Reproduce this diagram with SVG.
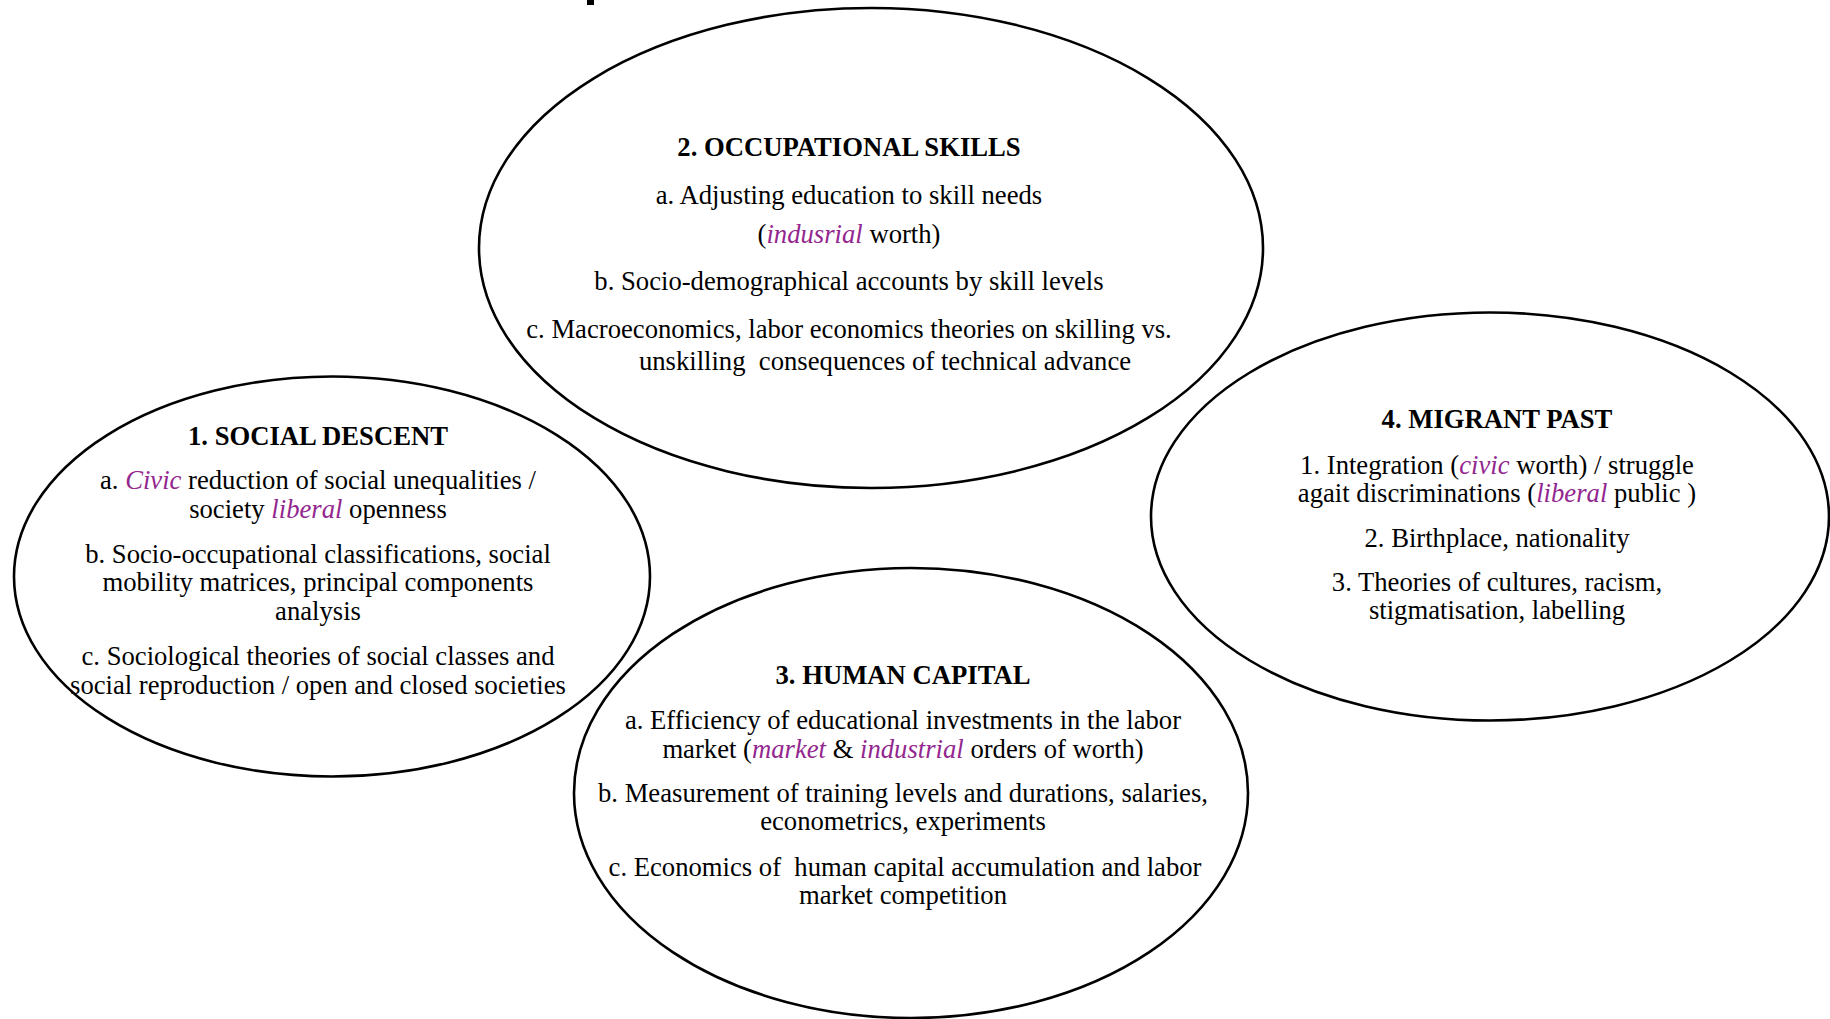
<svg xmlns="http://www.w3.org/2000/svg" width="1830" height="1019" viewBox="0 0 1830 1019">
<style>
.bg{fill:#ffffff}
.oval{fill:none;stroke:#000;stroke-width:2.6}
text{font-family:"Liberation Serif","Times New Roman",serif;font-size:26.67px;fill:#000;text-anchor:middle}
.h{font-weight:bold}
.m{font-style:italic;fill:#93278f}
</style>
<rect class="bg" x="0" y="0" width="1830" height="1019"/>
<rect id="title-fragment" x="587" y="0" width="7" height="5" fill="#000"/>
<g id="connectors"></g>
<g id="node-occupational-skills">
<ellipse class="oval" cx="871" cy="248" rx="392" ry="240"/>
<text class="h" x="849" y="156">2. OCCUPATIONAL SKILLS</text>
<text x="849" y="204">a. Adjusting education to skill needs</text>
<text x="849" y="243">(<tspan class="m">indusrial</tspan> worth)</text>
<text x="849" y="290">b. Socio-demographical accounts by skill levels</text>
<text x="849" y="338">c. Macroeconomics, labor economics theories on skilling vs.</text>
<text x="885" y="370" xml:space="preserve">unskilling  consequences of technical advance</text>
</g>
<g id="node-social-descent">
<ellipse class="oval" cx="332" cy="576.5" rx="318" ry="200"/>
<text class="h" x="318" y="445">1. SOCIAL DESCENT</text>
<text x="318" y="489">a. <tspan class="m">Civic</tspan> reduction of social unequalities /</text>
<text x="318" y="517.5">society <tspan class="m">liberal</tspan> openness</text>
<text x="318" y="562.5">b. Socio-occupational classifications, social</text>
<text x="318" y="591">mobility matrices, principal components</text>
<text x="318" y="619.5">analysis</text>
<text x="318" y="665">c. Sociological theories of social classes and</text>
<text x="318" y="693.5">social reproduction / open and closed societies</text>
</g>
<g id="node-human-capital">
<ellipse class="oval" cx="911" cy="793" rx="337" ry="225"/>
<text class="h" x="903" y="684">3. HUMAN CAPITAL</text>
<text x="903" y="729">a. Efficiency of educational investments in the labor</text>
<text x="903" y="758">market (<tspan class="m">market</tspan> &amp; <tspan class="m">industrial</tspan> orders of worth)</text>
<text x="903" y="802">b. Measurement of training levels and durations, salaries,</text>
<text x="903" y="830">econometrics, experiments</text>
<text x="905" y="876" xml:space="preserve">c. Economics of  human capital accumulation and labor</text>
<text x="903" y="904">market competition</text>
</g>
<g id="node-migrant-past">
<ellipse class="oval" cx="1490" cy="516.5" rx="339" ry="204"/>
<text class="h" x="1497" y="428">4. MIGRANT PAST</text>
<text x="1497" y="473.5">1. Integration (<tspan class="m">civic</tspan> worth) / struggle</text>
<text x="1497" y="501.5">agait discriminations (<tspan class="m">liberal</tspan> public )</text>
<text x="1497" y="546.5">2. Birthplace, nationality</text>
<text x="1497" y="591">3. Theories of cultures, racism,</text>
<text x="1497" y="619">stigmatisation, labelling</text>
</g>
</svg>
